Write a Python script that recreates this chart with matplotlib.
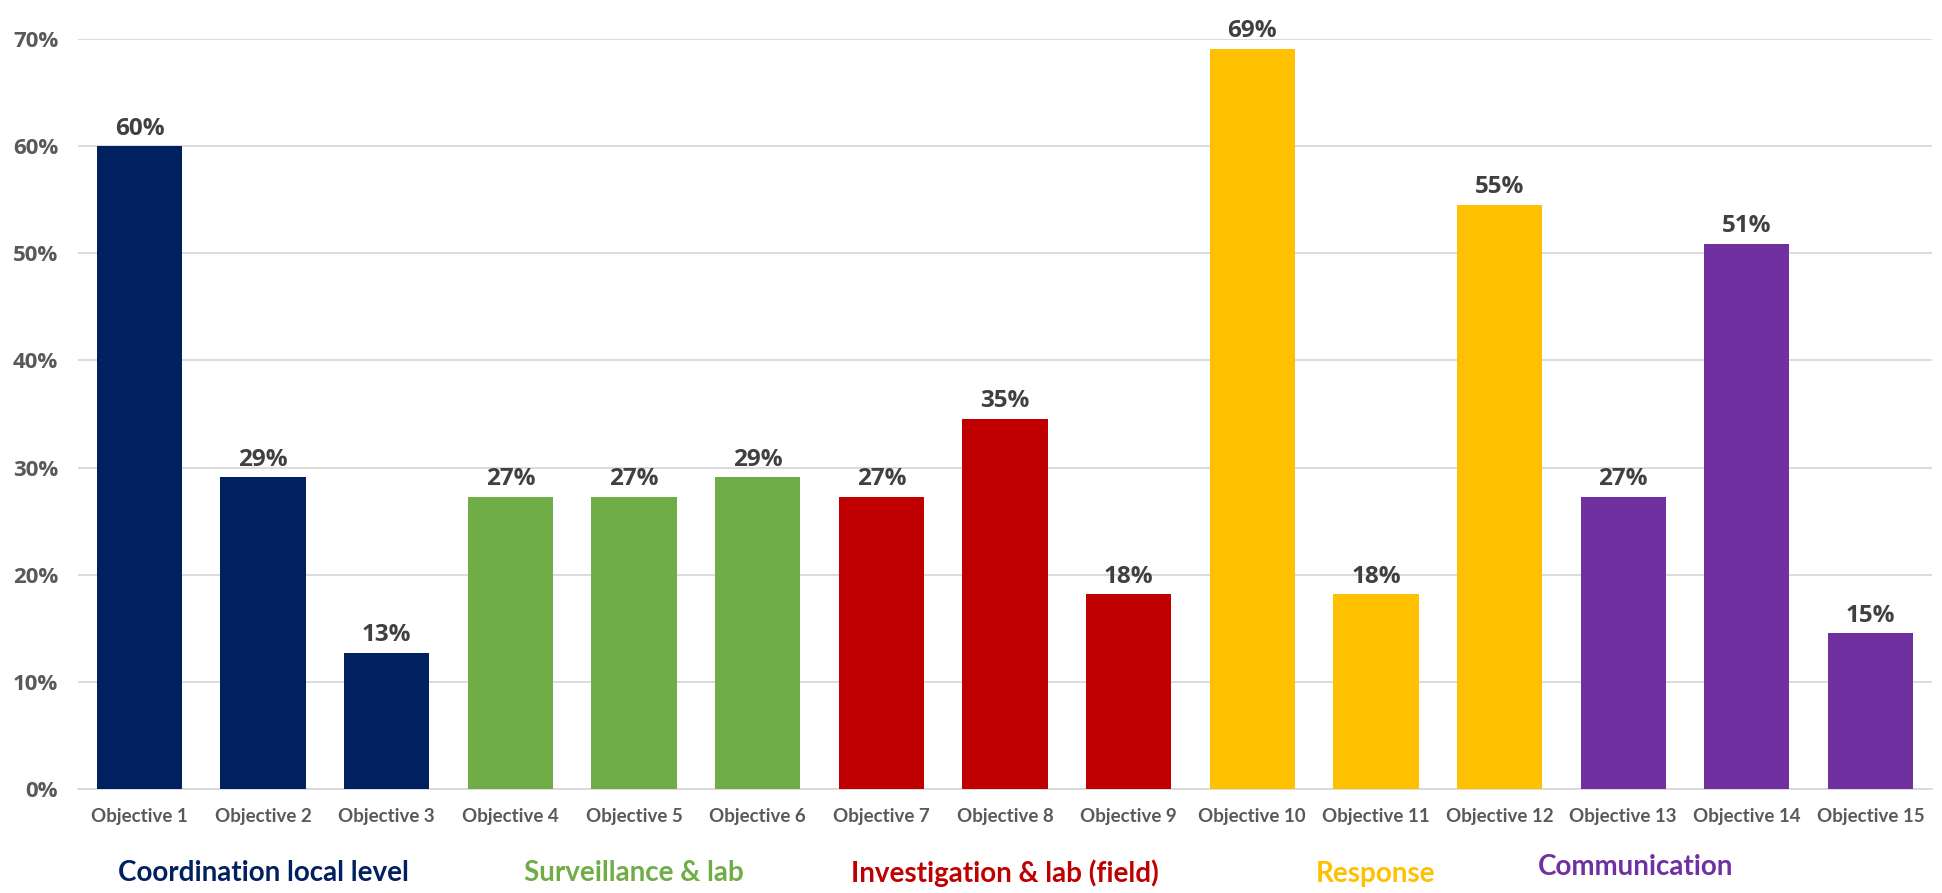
import matplotlib.pyplot as plt
from matplotlib.ticker import PercentFormatter

# counts out of 55 respondents
objectives = [f"Objective {i}" for i in range(1, 16)]
values = [33/55, 16/55, 7/55, 15/55, 15/55, 16/55, 15/55, 19/55, 10/55,
          38/55, 10/55, 30/55, 15/55, 28/55, 8/55]
group_of_bar = [0, 0, 0, 1, 1, 1, 2, 2, 2, 3, 3, 3, 4, 4, 4]

groups = ["Coordination local level", "Surveillance & lab",
          "Investigation & lab (field)", "Response", "Communication"]
group_colors = ["#002060", "#70AD47", "#C00000", "#FFC000", "#7030A0"]
group_label_x = [1, 4, 7, 10, 12.1]
group_label_y = [-0.112, -0.112, -0.112, -0.114, -0.104]

plt.rcParams['font.family'] = ['Lato', 'DejaVu Sans']
label_font = ['Open Sans', 'DejaVu Sans']

fig = plt.figure(figsize=(19.42, 8.93), dpi=100)
ax = fig.add_axes([0.040, 0.1165, 0.955, 0.8398])

x = list(range(len(objectives)))
colors = [group_colors[g] for g in group_of_bar]
bars = ax.bar(x, values, width=0.69, color=colors, zorder=3)

for b, v in zip(bars, values):
    ax.annotate(f"{v:.0%}", (b.get_x() + b.get_width() / 2, v),
                xytext=(0, 4), textcoords="offset points",
                ha="center", va="bottom", fontsize=17.5, fontweight="bold",
                color="#404040", family=label_font)

ax.set_ylim(0, 0.70)
ax.set_xlim(-0.5, len(objectives) - 0.5)
ax.set_yticks([i / 10 for i in range(8)])
ax.yaxis.set_major_formatter(PercentFormatter(1.0, decimals=0))
ax.grid(axis="y", color="#D9D9D9", linewidth=1.3, zorder=0)

for s in ["top", "right", "left"]:
    ax.spines[s].set_visible(False)
ax.spines["bottom"].set_color("#D9D9D9")
ax.spines["bottom"].set_linewidth(1.3)

ax.set_xticks(x)
ax.set_xticklabels(objectives, fontsize=13.5, fontweight="bold",
                   color="#595959")
ax.tick_params(axis="x", length=0, pad=14)
ax.tick_params(axis="y", length=0, pad=14, labelsize=16,
               labelcolor="#595959")
for t in ax.get_yticklabels():
    t.set_fontweight("bold")
    t.set_family(label_font)

for name, col, gx, gy in zip(groups, group_colors, group_label_x, group_label_y):
    ax.text(gx, gy, name, transform=ax.get_xaxis_transform(),
            ha="center", va="center", fontsize=20, fontweight="bold",
            color=col)

fig.savefig("out.png", dpi=100)
